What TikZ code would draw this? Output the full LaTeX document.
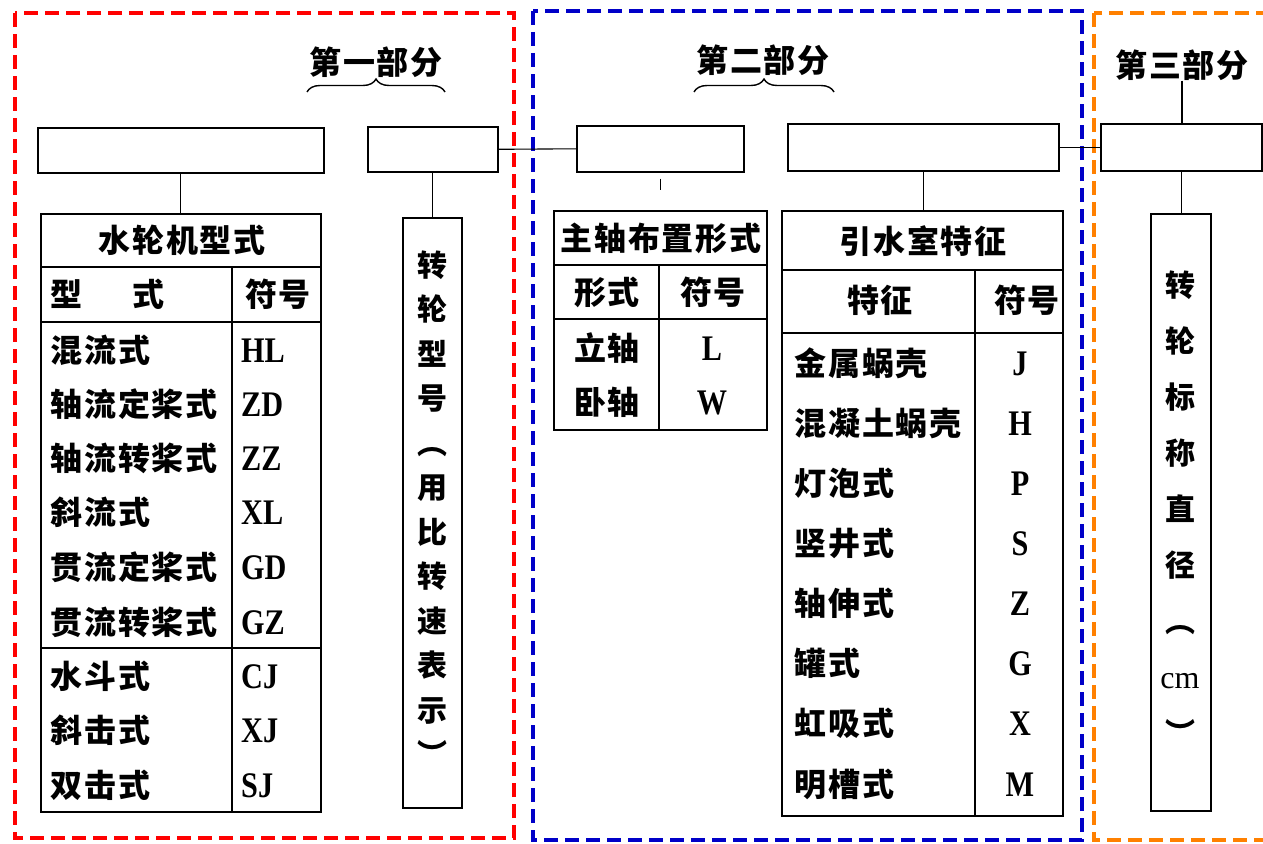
\documentclass[tikz,border=0pt]{standalone}
\usepackage{fontspec}
\usetikzlibrary{decorations.pathreplacing}
\setmainfont{Liberation Serif}
\newfontfamily\cjkf{Noto Sans CJK SC}
\newfontfamily\latf{Liberation Serif}[FakeStretch=0.84]
\newfontfamily\latr{Liberation Serif}
\definecolor{fred}{RGB}{255,0,0}
\definecolor{fblue}{RGB}{0,0,200}
\definecolor{forange}{RGB}{255,128,0}
\tikzset{
  box/.style={draw=black, line width=1.6pt, inner sep=0pt, anchor=north west, fill=white},
  rule/.style={line width=1.6pt},
  conn/.style={line width=1.1pt},
  part/.style={line width=3.6pt, dash pattern=on 14pt off 7pt},
  cj/.style={font=\cjkf\bfseries\fontsize{32}{36}\selectfont\addfontfeatures{LetterSpace=6}, inner sep=0pt},
  vcj/.style={inner sep=0pt, align=center},
  lt/.style={font=\latf\bfseries\fontsize{36}{36}\selectfont, inner sep=0pt},
  brc/.style={decorate, decoration={brace, amplitude=13pt}, line width=1.4pt},
}
\begin{document}
\begin{tikzpicture}[x=1pt,y=-1pt]
\useasboundingbox (0,0) rectangle (1263,843);
\fill[white] (0,0) rectangle (1263,843);
\begin{scope}
\clip (0,0) rectangle (1263,843);
\draw[part, fred] (15,13) rectangle (514,838);
\draw[part, fblue] (533,11) rectangle (1082,840);
\draw[part, forange] (1094,13) rectangle (1300,840);
\end{scope}

% part labels
\node[cj] (L1) at (376,62) {第一部分};
\draw[brc] (307,92) -- (445,92);
\node[cj] (L2) at (763,60) {第二部分};
\draw[brc] (694,92) -- (834,92);
\node[cj] (L3) at (1182,65) {第三部分};

% top boxes
\node[box, minimum width=286pt, minimum height=45pt] (A) at (37,127) {};
\node[box, minimum width=130pt, minimum height=45pt] (B) at (367,126) {};
\node[box, minimum width=167pt, minimum height=46pt] (C) at (576,125) {};
\node[box, minimum width=271pt, minimum height=47pt] (D) at (787,123) {};
\node[box, minimum width=161pt, minimum height=47pt] (E) at (1100,123) {};

% table 1
\node[box, minimum width=280pt, minimum height=598pt] (T1) at (40,213) {};
\draw[rule] (40,267) -- (320,267);
\draw[rule] (40,322) -- (320,322);
\draw[rule] (232,267) -- (232,811);
\draw[rule] (40,648) -- (320,648);
\node[cj] (T1h) at (182,240) {水轮机型式};
\node[cj, anchor=west] (T1a) at (50,294) {型\hspace{50pt}式};
\node[cj] (T1b) at (278,294) {符号};
\foreach \t/\s/\y [count=\i] in {混流式/HL/350, 轴流定桨式/ZD/404, 轴流转桨式/ZZ/458, 斜流式/XL/512, 贯流定桨式/GD/567, 贯流转桨式/GZ/622, 水斗式/CJ/676, 斜击式/XJ/730, 双击式/SJ/785}
{
  \node[cj, anchor=west] (ra\i) at (50,\y) {\t};
  \node[lt, anchor=base west] (sa\i) at (241,\y+12) {\s};
}

% vertical box 1
\node[box, minimum width=59pt, minimum height=590pt] (V1) at (402,217) {};
\node[vcj, font=\cjkf\bfseries\fontsize{30}{44.5}\selectfont] (V1t) at (432,508)
  {转\\轮\\型\\号\\︵\\用\\比\\转\\速\\表\\示\\︶};

% table 2
\node[box, minimum width=213pt, minimum height=219pt] (T2) at (553,210) {};
\draw[rule] (553,265) -- (766,265);
\draw[rule] (553,319) -- (766,319);
\draw[rule] (659,265) -- (659,429);
\node[cj] (T2h) at (661,238) {主轴布置形式};
\node[cj] (T2a) at (607,292) {形式};
\node[cj] (T2b) at (713,292) {符号};
\node[cj] (rb1) at (607,348) {立轴};
\node[lt, anchor=base] (sb1) at (712,360) {L};
\node[cj] (rb2) at (607,402) {卧轴};
\node[lt, anchor=base] (sb2) at (712,414) {W};

% table 3
\node[box, minimum width=281pt, minimum height=605pt] (T3) at (781,210) {};
\draw[rule] (781,270) -- (1062,270);
\draw[rule] (781,333) -- (1062,333);
\draw[rule] (975,270) -- (975,815);
\node[cj] (T3h) at (923,241) {引水室特征};
\node[cj] (T3a) at (880,300) {特征};
\node[cj] (T3b) at (1027,300) {符号};
\foreach \t/\s/\y [count=\i] in {金属蜗壳/J/363, 混凝土蜗壳/H/423, 灯泡式/P/483, 竖井式/S/543, 轴伸式/Z/603, 罐式/G/663, 虹吸式/X/723, 明槽式/M/784}
{
  \node[cj, anchor=west] (rc\i) at (794,\y) {\t};
  \node[lt, anchor=base] (sc\i) at (1020,\y+12) {\s};
}

% vertical box 3
\node[box, minimum width=60pt, minimum height=597pt] (V3) at (1150,213) {};
\node[vcj, font=\cjkf\bfseries\fontsize{30}{56}\selectfont] (V3t) at (1180,508)
  {转\\轮\\标\\称\\直\\径\\︵\\{\latr\mdseries\fontsize{32}{56}\selectfont cm}\\︶};

% connectors
\draw[conn] (A.south) -- (A.south |- T1.north);
\draw[conn] (B.south) -- (B.south |- V1.north);
\draw[conn] (B.east) -- (C.west);
\draw[conn] ([yshift=-6pt]C.south) -- ([yshift=-17pt]C.south);
\draw[conn] (D.south) -- (D.south |- T3.north);
\draw[conn] (D.east) -- (E.west);
\draw[conn] (L3.south) -- (L3.south |- E.north);
\draw[conn] (E.south) -- (E.south |- V3.north);
\end{tikzpicture}
\end{document}
